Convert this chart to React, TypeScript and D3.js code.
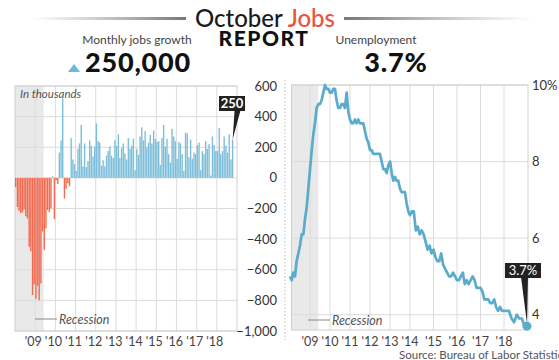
import React from "react";
import * as d3 from "d3";

const startMonth = new Date(2008, 0, 1);
const yearTicks = [2009, 2010, 2011, 2012, 2013, 2014, 2015, 2016, 2017, 2018];
const yearLabels = ["'09", "'10", "'11", "'12", "'13", "'14", "'15", "'16", "'17", "'18"];
const jobsTicks = [600, 400, 200, 0, -200, -400, -600, -800, -1000];
const rateTicks = [10, 8, 6, 4];
const rateTickLabels = ["10%", "8", "6", "4"];

// Monthly change in payrolls, thousands, Jan 2008 - Oct 2018
const jobsChange = [
  -60, -190, -215, -230, -225, -205, -250, -265, -450, -480, -765, -695,
  -790, -705, -800, -690, -350, -470, -330, -210, -225, -200, 10, -270,
  -15, -40, 165, 245, 520, -135, -70, -35, -55, 260, 120, 90,
  45, 190, 225, 345, 75, 225, 70, 110, 245, 210, 140, 205,
  355, 240, 230, 80, 115, 75, 145, 175, 205, 145, 130, 245,
  210, 285, 130, 195, 225, 160, 120, 260, 190, 210, 255, 50,
  190, 150, 270, 330, 245, 305, 200, 230, 280, 225, 310, 255,
  235, 240, 85, 260, 345, 205, 255, 155, 100, 320, 270, 240,
  125, 235, 225, 155, 45, 295, 290, 135, 250, 125, 165, 155,
  215, 230, 50, 175, 155, 240, 190, 220, 15, 270, 215, 175,
  175, 325, 155, 175, 270, 210, 165, 285, 120, 250,
];

// Unemployment rate, %, Jan 2008 - Oct 2018
const unemploymentRate = [
  5.0, 4.9, 5.1, 5.0, 5.4, 5.6, 5.8, 6.1, 6.1, 6.5, 6.8, 7.3,
  7.8, 8.3, 8.7, 9.0, 9.4, 9.5, 9.5, 9.6, 9.8, 10.0, 9.9, 9.9,
  9.8, 9.8, 9.9, 9.9, 9.6, 9.4, 9.4, 9.5, 9.5, 9.4, 9.8, 9.3,
  9.1, 9.0, 9.0, 9.1, 9.0, 9.1, 9.0, 9.0, 9.0, 8.8, 8.6, 8.5,
  8.3, 8.3, 8.2, 8.2, 8.2, 8.2, 8.2, 8.0, 7.8, 7.8, 7.7, 7.9,
  8.0, 7.7, 7.5, 7.6, 7.5, 7.5, 7.3, 7.2, 7.2, 7.2, 6.9, 6.7,
  6.6, 6.7, 6.7, 6.2, 6.3, 6.1, 6.2, 6.1, 5.9, 5.7, 5.8, 5.6,
  5.7, 5.5, 5.4, 5.4, 5.6, 5.3, 5.2, 5.1, 5.0, 5.0, 5.1, 5.0,
  4.9, 4.9, 5.0, 5.1, 4.8, 4.9, 4.8, 4.9, 5.0, 4.9, 4.7, 4.7,
  4.7, 4.6, 4.4, 4.4, 4.4, 4.3, 4.3, 4.4, 4.2, 4.1, 4.2, 4.1,
  4.1, 4.1, 4.1, 3.9, 3.8, 4.0, 3.9, 3.9, 3.7, 3.7,
];

const recessionStart = new Date(2007, 11, 1);
const recessionEnd = new Date(2009, 5, 1);

const FONT = "Lato, 'Open Sans', sans-serif";
const BLUE = "#7dbfda";
const RED = "#f46a50";
const LINE = "#5aabcc";
const GRID = "#dcdcdc";

export default function App() {
  const months = jobsChange.map((_, i) => d3.timeMonth.offset(startMonth, i));
  const lastDate = months[months.length - 1];

  // Left chart: jobs
  const L = { left: 15, right: 237, top: 86, bottom: 331 };
  const xJ = d3.scaleTime().domain([startMonth, new Date(2019, 0, 1)]).range([L.left, L.right]);
  const yJ = d3.scaleLinear().domain([-1000, 600]).range([L.bottom, L.top]);
  const bw = 1.4;

  // Right chart: unemployment
  const R = { left: 291.5, right: 528, top: 85, bottom: 330 };
  const xU = d3
    .scaleTime()
    .domain([startMonth, new Date(2014, 0, 1), new Date(2018, 0, 1), lastDate])
    .range([290, 410, 504, 527]);
  const yU = d3.scaleLinear().domain([3.6, 10]).range([R.bottom, R.top]);
  const line = d3
    .line<number>()
    .x((_, i) => xU(months[i]))
    .y((d) => yU(d));

  const lastJobs = jobsChange[jobsChange.length - 1];
  const lastRate = unemploymentRate[unemploymentRate.length - 1];
  const tipJx = xJ(lastDate) + bw / 2;
  const tipJy = yJ(lastJobs);
  const tipUx = xU(lastDate);
  const tipUy = yU(lastRate);

  return (
    <svg
      width={559}
      height={360}
      style={{ position: "absolute", left: 0, top: 0, background: "#fff" }}
      fontFamily={FONT}
    >
      <defs>
        <linearGradient id="gl" x1="0" x2="1" y1="0" y2="0">
          <stop offset="0" stopColor="#999" stopOpacity={0} />
          <stop offset="1" stopColor="#777" stopOpacity={1} />
        </linearGradient>
        <linearGradient id="gr" x1="0" x2="1" y1="0" y2="0">
          <stop offset="0" stopColor="#777" stopOpacity={1} />
          <stop offset="1" stopColor="#999" stopOpacity={0} />
        </linearGradient>
      </defs>

      {/* Header */}
      <rect x={30} y={17} width={156} height={3} fill="url(#gl)" />
      <rect x={344} y={17} width={190} height={3} fill="url(#gr)" />
      <text x={265} y={27} textAnchor="middle" fontSize={24} fontWeight={500} fill="#1a1a1a">
        October <tspan fill="#e8553a">Jobs</tspan>
      </text>
      <text x={264} y={46} textAnchor="middle" fontSize={21} fontWeight={900} letterSpacing={1.5} fill="#111">
        REPORT
      </text>
      <text x={137} y={43.5} textAnchor="middle" fontSize={12} fill="#444">
        Monthly jobs growth
      </text>
      <path d="M68,72 L74,64 L80,72 Z" fill="#6cb8d6" />
      <text x={138} y={72} textAnchor="middle" fontSize={27} fontWeight={900} letterSpacing={0.8} fill="#111">
        250,000
      </text>
      <text x={376} y={43.5} textAnchor="middle" fontSize={12} fill="#444">
        Unemployment
      </text>
      <text x={396} y={72} textAnchor="middle" fontSize={27} fontWeight={900} letterSpacing={0.8} fill="#111">
        3.7%
      </text>

      {/* Left chart */}
      <rect
        x={xJ(recessionStart) < L.left ? L.left : xJ(recessionStart)}
        y={L.top}
        width={xJ(recessionEnd) - L.left}
        height={L.bottom - L.top}
        fill="#e9e9e9"
      />
      {jobsTicks.map((t) => (
        <line key={t} x1={L.left} x2={L.right} y1={yJ(t)} y2={yJ(t)} stroke={GRID} strokeWidth={1} />
      ))}
      {yearTicks.map((yr) => (
        <line
          key={yr}
          x1={xJ(new Date(yr, 0, 1))}
          x2={xJ(new Date(yr, 0, 1))}
          y1={L.top}
          y2={L.bottom}
          stroke={GRID}
        />
      ))}
      <rect x={L.left} y={L.top} width={L.right - L.left} height={L.bottom - L.top} fill="none" stroke="#cfcfcf" />
      {jobsChange.map((v, i) => (
        <rect
          key={i}
          x={xJ(months[i])}
          y={v >= 0 ? yJ(v) : yJ(0)}
          width={bw}
          height={Math.abs(yJ(v) - yJ(0))}
          fill={v >= 0 ? BLUE : RED}
        />
      ))}
      <text x={20} y={98} fontSize={11.5} fontStyle="italic" fill="#555">
        In thousands
      </text>
      <line x1={35} x2={57} y1={319} y2={319} stroke="#888" />
      <text x={59} y={323.5} fontSize={12.5} fontStyle="italic" fill="#555">
        Recession
      </text>
      {yearTicks.map((yr, i) => (
        <text
          key={yr}
          x={xJ(new Date(yr, 0, 1)) - 2}
          y={346}
          textAnchor="middle"
          fontSize={12.5}
          fill="#444"
        >
          {yearLabels[i]}
        </text>
      ))}
      {/* 250 callout */}
      <path d={`M${tipJx + 2},110 L${tipJx + 8},110 L${tipJx},${tipJy} Z`} fill="#222" />
      <rect x={219} y={96} width={26} height={15} fill="#222" />
      <text x={232} y={108} textAnchor="middle" fontSize={13} fontWeight={700} fill="#fff">
        {lastJobs}
      </text>

      {/* shared left axis labels */}
      {jobsTicks.map((t) => (
        <text key={t} x={277} y={yJ(t) + 4.5} textAnchor="end" fontSize={13} fill="#333">
          {d3.format(",")(t)}
        </text>
      ))}
      <line x1={285} x2={285} y1={80} y2={340} stroke="#bbb" strokeDasharray="1.5,2" />

      {/* Right chart */}
      <rect x={R.left} y={R.top} width={xU(recessionEnd) - R.left} height={R.bottom - R.top} fill="#e9e9e9" />
      {yearTicks.map((yr) => (
        <line
          key={yr}
          x1={xU(new Date(yr, 0, 1))}
          x2={xU(new Date(yr, 0, 1))}
          y1={R.top}
          y2={R.bottom}
          stroke={GRID}
        />
      ))}
      {rateTicks.map((t) => (
        <line key={t} x1={R.left} x2={R.right} y1={yU(t)} y2={yU(t)} stroke={GRID} />
      ))}
      <rect x={R.left} y={R.top} width={R.right - R.left} height={R.bottom - R.top} fill="none" stroke="#cfcfcf" />
      <path d={line(unemploymentRate) || ""} fill="none" stroke={LINE} strokeWidth={2.7} strokeLinejoin="round" />
      <circle cx={tipUx} cy={tipUy} r={4.5} fill={LINE} />
      <line x1={308} x2={330} y1={320} y2={320} stroke="#888" />
      <text x={332} y={324.5} fontSize={12.5} fontStyle="italic" fill="#555">
        Recession
      </text>
      {rateTicks.map((t, i) => (
        <text key={t} x={532} y={yU(t) + 4.5} fontSize={13} fill="#333">
          {rateTickLabels[i]}
        </text>
      ))}
      {yearTicks.map((yr, i) => (
        <text key={yr} x={xU(new Date(yr, 0, 1))} y={346} textAnchor="middle" fontSize={12.5} fill="#444">
          {yearLabels[i]}
        </text>
      ))}
      {/* 3.7% callout */}
      <path d={`M${tipUx - 6},277 L${tipUx + 1},277 L${tipUx},${tipUy - 3} Z`} fill="#222" />
      <rect x={505} y={263} width={36} height={15} fill="#222" />
      <text x={523} y={275} textAnchor="middle" fontSize={13} fill="#fff">
        {lastRate}%
      </text>

      <text x={399} y={359} fontSize={11.5} fill="#555">
        Source: Bureau of Labor Statistics
      </text>
    </svg>
  );
}
